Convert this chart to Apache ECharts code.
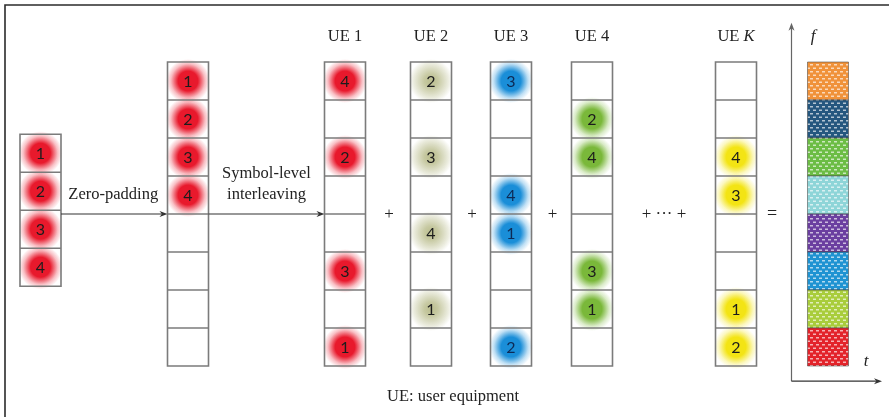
<!DOCTYPE html>
<html lang="en">
<head>
<meta charset="UTF-8">
<script src="https://cdn.jsdelivr.net/npm/echarts@6/dist/echarts.min.js"></script>
<title>Symbol-level interleaving</title>
</head>
<body style="margin:0;background:#fff">
<div id="main" style="width:889px;height:417px;"></div>
<script type="text/javascript">
// ---- data: symbol number in each cell (0 = empty) ----
var inputSymbols = [1, 2, 3, 4];
var paddedSymbols = [1, 2, 3, 4, 0, 0, 0, 0];
var ueNames = ['UE 1', 'UE 2', 'UE 3', 'UE 4', 'UE K'];
var ue1 = [4, 0, 2, 0, 0, 3, 0, 1];
var ue2 = [2, 0, 3, 0, 4, 0, 1, 0];
var ue3 = [3, 0, 0, 4, 1, 0, 0, 2];
var ue4 = [0, 2, 4, 0, 0, 3, 1, 0];
var ueK = [0, 0, 4, 3, 0, 0, 1, 2];
var resultBands = ['b8', 'b7', 'b6', 'b5', 'b4', 'b3', 'b2', 'b1'];

// ---- layout / style ----
var colX = [40.5, 188, 345, 431, 511, 592, 736, 828];
var cellW = 41;
var inputOffset = 1.9;   // input column starts lower (in rows)
var glowColors = ['#e8192c', '#e8192c', '#e8192c', '#b7ba88', '#1a8ed8', '#7ab83a', '#f3e414'];
var bandColors = ['#f0923a', '#25577f', '#6cbd45', '#8ed5d8', '#6b3fa0', '#1f93d2', '#a9cd3c', '#e3242b'];
var lineColor = '#7b7b7b';
var serif = '"Liberation Serif", "DejaVu Serif", serif';

var columns = [
    {symbols: inputSymbols, offset: inputOffset},
    {symbols: paddedSymbols, offset: 0},
    {symbols: ue1, offset: 0},
    {symbols: ue2, offset: 0},
    {symbols: ue3, offset: 0},
    {symbols: ue4, offset: 0},
    {symbols: ueK, offset: 0}
];

function hexToRgba(hex, a) {
    var n = parseInt(hex.slice(1), 16);
    return 'rgba(' + (n >> 16 & 255) + ',' + (n >> 8 & 255) + ',' + (n & 255) + ',' + a + ')';
}

function dotPattern() {
    var c = document.createElement('canvas');
    c.width = 6; c.height = 7;
    var g = c.getContext('2d');
    g.fillStyle = 'rgba(255,255,255,0.65)';
    g.fillRect(0, 1, 3, 1.5);
    g.fillRect(3, 4.5, 3, 1.5);
    return c;
}
var pattern = dotPattern();

function renderColumn(params, api) {
    var ci = api.value(2);
    var col = columns[ci];
    var x = colX[ci];
    var rowH = api.size([0, 1])[1];
    var children = [];
    col.symbols.forEach(function (s, r) {
        if (!s) return;
        var p = api.coord([x, col.offset + r + 0.5]);
        var c = glowColors[ci];
        var soft = ci === 3;
        children.push({
            type: 'circle',
            shape: {cx: p[0], cy: p[1], r: 22},
            style: {
                fill: {
                    type: 'radial', x: 0.5, y: 0.5, r: 0.5,
                    colorStops: [
                        {offset: 0, color: hexToRgba(c, soft ? 0.95 : 1)},
                        {offset: soft ? 0.3 : 0.45, color: hexToRgba(c, soft ? 0.8 : 1)},
                        {offset: 0.78, color: hexToRgba(c, 0.28)},
                        {offset: 1, color: hexToRgba(c, 0)}
                    ]
                }
            }
        });
        children.push({
            type: 'text',
            style: {
                text: String(s), x: p[0], y: p[1] + 1,
                font: '16px Lato, "Open Sans", sans-serif',
                fill: ci === 4 ? '#0d2a55' : '#1c1c1c',
                align: 'center', verticalAlign: 'middle',
                textAlign: 'center', textVerticalAlign: 'middle'
            }
        });
    });
    var top = api.coord([x, col.offset]);
    var n = col.symbols.length;
    children.push({
        type: 'rect',
        shape: {x: top[0] - cellW / 2, y: top[1], width: cellW, height: n * rowH},
        style: {fill: null, stroke: lineColor, lineWidth: 1.6}
    });
    for (var r = 1; r < n; r++) {
        var y = api.coord([x, col.offset + r])[1];
        children.push({
            type: 'line',
            shape: {x1: top[0] - cellW / 2, y1: y, x2: top[0] + cellW / 2, y2: y},
            style: {stroke: lineColor, lineWidth: 1.6}
        });
    }
    return {type: 'group', children: children};
}

function renderBand(params, api) {
    var r = params.dataIndex;
    var p0 = api.coord([colX[7], r]);
    var rowH = api.size([0, 1])[1];
    var shape = {x: p0[0] - cellW / 2, y: p0[1], width: cellW, height: rowH};
    return {
        type: 'group',
        children: [
            {type: 'rect', shape: shape, style: {fill: bandColors[r]}},
            {type: 'rect', shape: shape, style: {fill: {image: pattern, repeat: 'repeat'}}},
            {type: 'rect', shape: shape, style: {fill: null, stroke: 'rgba(70,70,70,0.55)', lineWidth: 1}}
        ]
    };
}

function arrow(x1, y1, x2, y2, color) {
    var dx = x2 - x1, dy = y2 - y1, len = Math.sqrt(dx * dx + dy * dy);
    var ux = dx / len, uy = dy / len;
    var hl = 8, hw = 3;
    return [
        {type: 'line', shape: {x1: x1, y1: y1, x2: x2 - ux * 3, y2: y2 - uy * 3}, style: {stroke: color, lineWidth: 1.2}},
        {type: 'polygon', shape: {points: [
            [x2, y2],
            [x2 - ux * hl - uy * hw, y2 - uy * hl + ux * hw],
            [x2 - ux * hl * 0.7, y2 - uy * hl * 0.7],
            [x2 - ux * hl + uy * hw, y2 - uy * hl - ux * hw]
        ]}, style: {fill: color}}
    ];
}

function label(text, x, y, size, extra) {
    var st = {
        text: text, x: x, y: y, font: size + 'px ' + serif, fill: '#222',
        align: 'center', verticalAlign: 'middle', textAlign: 'center', textVerticalAlign: 'middle'
    };
    for (var k in extra) st[k] = extra[k];
    return {type: 'text', style: st};
}

function renderAnnotations(params, api) {
    var ch = [];
    var midY = api.coord([0, 4])[1];
    ch = ch.concat(arrow(colX[0] + cellW / 2, midY, colX[1] - cellW / 2, midY, '#333'));
    ch = ch.concat(arrow(colX[1] + cellW / 2, midY, colX[2] - cellW / 2, midY, '#333'));
    ch.push(label('Zero-padding', (colX[0] + colX[1]) / 2 - 1, api.coord([0, 3.5])[1], 16.5));
    ch.push(label('Symbol-level', (colX[1] + colX[2]) / 2, api.coord([0, 2.93])[1], 16.5));
    ch.push(label('interleaving', (colX[1] + colX[2]) / 2, api.coord([0, 3.5])[1], 16.5));
    // UE headers
    var hy = api.coord([0, -0.66])[1];
    ueNames.forEach(function (n, i) {
        var parts = n.split(' ');
        ch.push({
            type: 'text',
            style: {
                text: '{a|' + parts[0] + ' }{' + (parts[1] === 'K' ? 'k' : 'a') + '|' + parts[1] + '}',
                x: colX[i + 2], y: hy, align: 'center', verticalAlign: 'middle',
                textAlign: 'center', textVerticalAlign: 'middle',
                rich: {
                    a: {font: '16.5px ' + serif, fill: '#222'},
                    k: {font: 'italic 16.5px ' + serif, fill: '#222'}
                }
            }
        });
    });
    // operators between columns
    var oy = api.coord([0, 4.02])[1];
    for (var i = 2; i < 5; i++) {
        ch.push(label('+', (colX[i] + colX[i + 1]) / 2 + 1, oy, 17));
    }
    ch.push(label('+ \u00b7\u00b7\u00b7 +', (colX[5] + colX[6]) / 2, oy, 17));
    ch.push(label('=', colX[6] + 36, oy, 18));
    ch.push(label('UE: user equipment', 453, api.coord([0, 8.8])[1], 16.5));
    // t-f axes
    var ax = 791.5;
    var ay = api.coord([0, 8.4])[1];
    var fy = api.coord([0, -1.03])[1];
    ch = ch.concat(arrow(ax, ay, ax, fy, '#666'));
    ch = ch.concat(arrow(ax, ay, 882, ay, '#333'));
    ch.push(label('f', 813, api.coord([0, -0.66])[1], 17, {font: 'italic 17px ' + serif}));
    ch.push(label('t', 866, api.coord([0, 7.89])[1], 17, {font: 'italic 17px ' + serif}));
    return {type: 'group', children: ch};
}

var myChart = echarts.init(document.getElementById('main'));
var option = {
    animation: false,
    grid: {left: 0, right: 0, top: 62, bottom: 51},
    xAxis: {type: 'value', min: 0, max: 889, show: false},
    yAxis: {type: 'value', min: 0, max: 8, inverse: true, show: false},
    graphic: [
        {type: 'polyline', shape: {points: [[5, 417], [5, 5], [889, 5]]}, style: {fill: null, stroke: '#2b2b2b', lineWidth: 1.6}}
    ],
    series: [
        {
            type: 'custom',
            renderItem: renderColumn,
            encode: {x: 0, y: 1},
            data: columns.map(function (c, i) { return [colX[i], c.offset, i]; }),
            silent: true
        },
        {
            type: 'custom',
            renderItem: renderBand,
            encode: {x: 0, y: 1},
            data: resultBands.map(function (b, r) { return [colX[7], r]; }),
            silent: true
        },
        {
            type: 'custom',
            renderItem: renderAnnotations,
            encode: {x: 0, y: 1},
            data: [[0, 0]],
            silent: true
        }
    ]
};
myChart.setOption(option);
</script>
</body>
</html>
